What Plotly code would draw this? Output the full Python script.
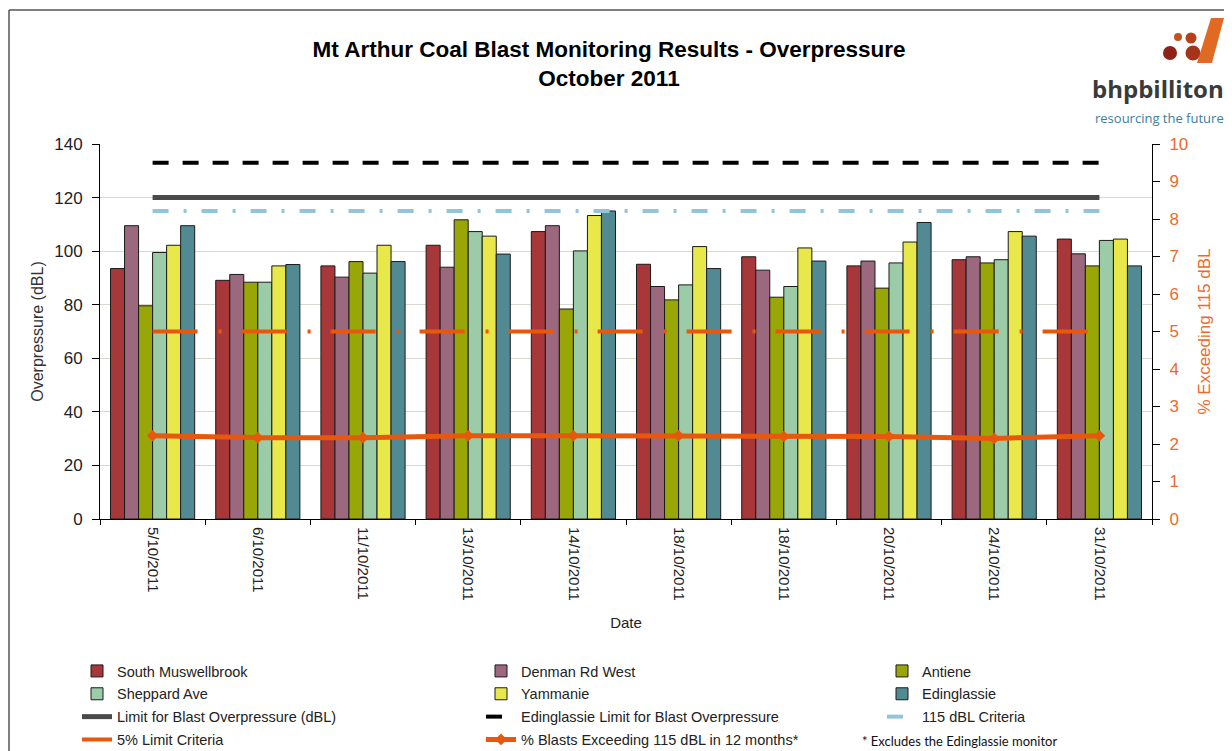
import plotly.graph_objects as go

# ---------------- data ----------------
DATES = ["5/10/2011", "6/10/2011", "11/10/2011", "13/10/2011", "14/10/2011",
         "18/10/2011", "18/10/2011", "20/10/2011", "24/10/2011", "31/10/2011"]

SOUTH_MUSWELLBROOK = [93.5, 89.1, 94.5, 102.2, 107.3, 95.1, 97.9, 94.5, 96.8, 104.5]
DENMAN_RD_WEST     = [109.5, 91.3, 90.3, 94.0, 109.5, 86.8, 92.9, 96.3, 97.9, 99.0]
ANTIENE            = [79.6, 88.4, 96.1, 111.7, 78.4, 81.8, 82.8, 86.2, 95.6, 94.5]
SHEPPARD_AVE       = [99.5, 88.4, 91.8, 107.3, 100.1, 87.4, 86.8, 95.6, 96.8, 104.0]
YAMMANIE           = [102.2, 94.5, 102.2, 105.6, 113.3, 101.7, 101.2, 103.4, 107.3, 104.5]
EDINGLASSIE        = [109.5, 95.0, 96.1, 98.9, 115.0, 93.5, 96.3, 110.7, 105.6, 94.5]

LIMIT_OVERPRESSURE = [120] * 10
EDINGLASSIE_LIMIT  = [133] * 10
CRITERIA_115       = [115] * 10
LIMIT_5PCT         = [5] * 10
PCT_EXCEEDING      = [2.22, 2.17, 2.17, 2.22, 2.22, 2.22, 2.2, 2.2, 2.15, 2.22]

X_POS = list(range(len(DATES)))

# ---------------- layout helpers ----------------
# page body has an 8px margin; design coordinates are given in window pixels
OFF = 8
W, H = 1232 - OFF, 751 - OFF
ML, MR, MT, MB = 100 - OFF, W - (1152 - OFF), 144 - OFF, H - (519 - OFF)
PW, PH = W - ML - MR, H - MT - MB


def px(x):
    return (x - OFF - ML) / PW


def py(y):
    return (H - MB - (y - OFF)) / PH


FONT = "Liberation Sans, Arial, sans-serif"
ORANGE = "#E8580C"
ORANGE_TXT = "#EE6A2C"

fig = go.Figure()

bar_specs = [
    ("South Muswellbrook", SOUTH_MUSWELLBROOK, "#A8373A", "legend"),
    ("Denman Rd West", DENMAN_RD_WEST, "#9C687E", "legend2"),
    ("Antiene", ANTIENE, "#98A608", "legend3"),
    ("Sheppard Ave", SHEPPARD_AVE, "#9BCBA7", "legend"),
    ("Yammanie", YAMMANIE, "#E8E84A", "legend2"),
    ("Edinglassie", EDINGLASSIE, "#528A93", "legend3"),
]
for name, vals, col, lg in bar_specs:
    fig.add_trace(go.Bar(
        x=X_POS, y=vals, name=name, marker=dict(color=col, line=dict(color="#1a1a1a", width=1)),
        legend=lg, legendgroup=name, hoverinfo="y+name"))

fig.add_trace(go.Scatter(
    x=X_POS, y=LIMIT_OVERPRESSURE, mode="lines", name="Limit for Blast Overpressure (dBL)",
    line=dict(color="#4A4A4A", width=5), legend="legend", legendgroup="lim"))
fig.add_trace(go.Scatter(
    x=X_POS, y=EDINGLASSIE_LIMIT, mode="lines", name="Edinglassie Limit for Blast Overpressure",
    line=dict(color="#000000", width=4, dash="16px,14px"), legend="legend2", legendgroup="edlim"))
fig.add_trace(go.Scatter(
    x=X_POS, y=CRITERIA_115, mode="lines", name="115 dBL Criteria",
    line=dict(color="#92C4DA", width=4, dash="16px,15px,3px,15px"), legend="legend3", legendgroup="c115"))
fig.add_trace(go.Scatter(
    x=X_POS, y=LIMIT_5PCT, mode="lines", name="5% Limit Criteria", yaxis="y2",
    line=dict(color=ORANGE, width=4, dash="45px,21px,3px,20px"), legend="legend", legendgroup="l5"))
fig.add_trace(go.Scatter(
    x=X_POS, y=PCT_EXCEEDING, mode="lines+markers", name="% Blasts Exceeding 115 dBL in 12 months*",
    yaxis="y2", line=dict(color=ORANGE, width=5),
    marker=dict(symbol="diamond", size=9, color=ORANGE),
    legend="legend2", legendgroup="pct"))

legend_common = dict(orientation="v", xanchor="left", yanchor="top",
                     font=dict(family=FONT, size=14.5, color="#222222"),
                     bgcolor="rgba(0,0,0,0)", tracegroupgap=1, itemclick=False)

shapes = [
    # outer frame
    dict(type="line", xref="paper", yref="paper", x0=px(9), x1=px(1240), y0=py(10), y1=py(10),
         line=dict(color="#555555", width=1.5)),
    dict(type="line", xref="paper", yref="paper", x0=px(9), x1=px(9), y0=py(10), y1=py(760),
         line=dict(color="#555555", width=1.5)),
]
# logo graphic
for (cx, cy, r, col) in [(1178, 37, 4, "#C4521E"), (1170, 53, 7, "#8E2317"),
                         (1191, 38, 5.5, "#B5401B"), (1193, 53, 7.5, "#A6341A")]:
    shapes.append(dict(type="circle", xref="paper", yref="paper",
                       x0=px(cx - r), x1=px(cx + r), y0=py(cy + r), y1=py(cy - r),
                       fillcolor=col, line=dict(width=0)))
slash = [(1211, 18), (1224, 18), (1212, 63), (1197, 63)]
path = "M " + " L ".join(f"{px(a):.5f},{py(b):.5f}" for a, b in slash) + " Z"
shapes.append(dict(type="path", xref="paper", yref="paper", path=path,
                   fillcolor="#E06A24", line=dict(width=0)))

annotations = [
    dict(text="* Excludes the Edinglassie monitor", xref="paper", yref="paper",
         x=px(860), y=py(741), xanchor="left", yanchor="middle", showarrow=False,
         font=dict(family="Lato, Open Sans, sans-serif", size=13, color="#111111")),
    dict(text="bhpbilliton", xref="paper", yref="paper", x=px(1226), y=py(88),
         xanchor="right", yanchor="middle", showarrow=False,
         font=dict(family="Open Sans, sans-serif", size=24, color="#3A3A3A", weight="bold")),
    dict(text="resourcing the future", xref="paper", yref="paper", x=px(1226), y=py(118),
         xanchor="right", yanchor="middle", showarrow=False,
         font=dict(family="Open Sans, sans-serif", size=13, color="#3C7EA0")),
]

fig.update_layout(
    width=W, height=H,
    margin=dict(l=ML, r=MR, t=MT, b=MB, autoexpand=False),
    paper_bgcolor="white", plot_bgcolor="white",
    barmode="group", bargap=0.2, bargroupgap=0,
    title=dict(text="<b>Mt Arthur Coal Blast Monitoring Results - Overpressure<br>October 2011</b>",
               x=(609 - OFF) / W, xanchor="center", y=1 - 49 / H, yanchor="top",
               font=dict(family=FONT, size=22.5, color="#000000")),
    font=dict(family=FONT, color="#222222"),
    xaxis=dict(range=[-0.5, 9.5], tickmode="array", tickvals=X_POS, ticktext=DATES,
               tickangle=90, ticks="", showline=True, linecolor="#000000", linewidth=1,
               ticklabelstandoff=4,
               tickfont=dict(family=FONT, size=15, color="#222222"),
               minor=dict(tickvals=[v - 0.5 for v in X_POS] + [9.5], ticks="outside",
                          ticklen=5, tickcolor="#000000", showgrid=False),
               showgrid=False, zeroline=False,
               title=dict(text="Date", font=dict(family=FONT, size=15, color="#222222"), standoff=17)),
    yaxis=dict(range=[0, 140], dtick=20, showgrid=True, gridcolor="#D8D8CF", gridwidth=1,
               showline=True, linecolor="#000000", linewidth=1, ticks="outside", ticklen=7,
               tickcolor="#000000", zeroline=False, ticklabelstandoff=6,
               tickfont=dict(family=FONT, size=17, color="#222222"),
               title=dict(text="Overpressure (dBL)", standoff=6,
                          font=dict(family=FONT, size=16, color="#333333"))),
    yaxis2=dict(range=[0, 10], dtick=1, overlaying="y", side="right", showgrid=False,
                showline=True, linecolor="#000000", linewidth=1, ticks="outside", ticklen=7,
                tickcolor="#000000", zeroline=False, ticklabelstandoff=6,
                tickfont=dict(family=FONT, size=17, color=ORANGE_TXT),
                title=dict(text="% Exceeding 115 dBL", standoff=10,
                           font=dict(family=FONT, size=17, color=ORANGE_TXT))),
    yaxis3=dict(range=[0, 10], dtick=1, overlaying="y", side="right", anchor="x", showgrid=False,
                showline=False, ticks="inside", ticklen=7, tickcolor="#000000",
                showticklabels=False, zeroline=False),
    legend=dict(x=px(77), y=py(655), **legend_common),
    legend2=dict(x=px(481), y=py(655), **legend_common),
    legend3=dict(x=px(882), y=py(655), **legend_common),
    shapes=shapes, annotations=annotations,
)

fig.write_html("out.html")
